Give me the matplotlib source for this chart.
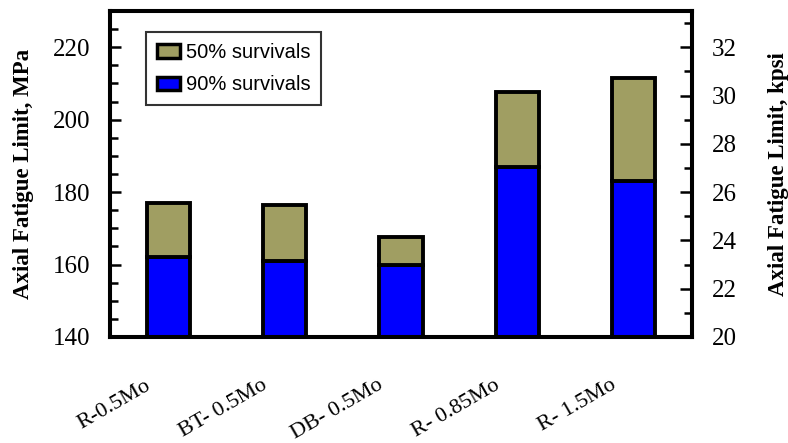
import matplotlib
matplotlib.use("Agg")
import matplotlib.pyplot as plt
from matplotlib.ticker import MultipleLocator
from matplotlib.transforms import ScaledTranslation
from matplotlib.patches import Rectangle
from matplotlib.legend_handler import HandlerPatch

# Alloy / processing conditions
categories = ["R-0.5Mo", "BT- 0.5Mo", "DB- 0.5Mo", "R- 0.85Mo", "R- 1.5Mo"]
# Axial fatigue limit (MPa)
survival_50 = [177.0, 176.5, 167.5, 207.5, 211.5]
survival_90 = [162.0, 161.0, 160.0, 187.0, 183.0]

serif = ["Liberation Serif", "DejaVu Serif"]
sans = ["Liberation Sans", "DejaVu Sans"]

fig = plt.figure(figsize=(7.88, 4.43), dpi=100)
ax = fig.add_axes([0.1396, 0.2393, 0.7386, 0.7359])

x = list(range(len(categories)))
ymin = 140
width = 0.37
edge_lw = 2.8

h90 = [v - ymin for v in survival_90]
h50 = [a - b for a, b in zip(survival_50, survival_90)]
ax.bar(x, h90, width, bottom=ymin, color="#0000FF", edgecolor="black",
       linewidth=edge_lw, label="90% survivals", zorder=2)
ax.bar(x, h50, width, bottom=survival_90, color="#A09E62", edgecolor="black",
       linewidth=edge_lw, label="50% survivals", zorder=2)

ax.set_xlim(-0.5, len(categories) - 0.5)
ax.set_ylim(140, 230)
ax.yaxis.set_major_locator(MultipleLocator(20))
ax.yaxis.set_minor_locator(MultipleLocator(5))
ax.tick_params(axis="y", which="major", direction="in", length=8, width=1.8,
               pad=14, labelsize=18)
ax.tick_params(axis="y", which="minor", direction="in", length=6, width=1.8)
for t in ax.get_yticklabels():
    t.set_family(serif)

ax.set_xticks(x)
ax.set_xticklabels(categories, rotation=30, ha="right", va="top",
                   rotation_mode="anchor", fontsize=16, family=serif)
ax.tick_params(axis="x", length=0, pad=0)
offset = ScaledTranslation(-0.24, -0.39, fig.dpi_scale_trans)
for t in ax.get_xticklabels():
    t.set_transform(t.get_transform() + offset)

for s in ax.spines.values():
    s.set_linewidth(2.9)
    s.set_zorder(3)

ax.set_ylabel("Axial Fatigue Limit, MPa", fontsize=16.5, fontweight="bold",
              family=serif, labelpad=14)

# Secondary scale in kpsi
ax2 = ax.twinx()
ax2.set_ylim(20, 33.5)
ax2.yaxis.set_major_locator(MultipleLocator(2))
ax2.yaxis.set_minor_locator(MultipleLocator(1))
ax2.tick_params(axis="y", which="major", direction="in", length=9, width=1.8,
                pad=14, labelsize=18)
ax2.tick_params(axis="y", which="minor", direction="in", length=6, width=1.8)
for t in ax2.get_yticklabels():
    t.set_family(serif)
for s in ax2.spines.values():
    s.set_linewidth(2.9)
ax2.set_ylabel("Axial Fatigue Limit, kpsi", fontsize=16.5, fontweight="bold",
               family=serif, labelpad=23)


def small_square(legend, orig_handle, xdescent, ydescent, width, height, fontsize):
    size = height
    return Rectangle((-xdescent + width - size - 1.0, -ydescent), size, size)


handles, labels = ax.get_legend_handles_labels()
leg = ax.legend(handles[::-1], labels[::-1], loc="upper left",
                bbox_to_anchor=(0.061, 0.935), prop={"family": sans, "size": 14.5},
                frameon=True, fancybox=False, edgecolor="black",
                handlelength=1.15, handleheight=0.65, handletextpad=0.3,
                borderpad=0.55, labelspacing=0.65, borderaxespad=0,
                handler_map={Rectangle: HandlerPatch(patch_func=small_square)})
leg.get_frame().set_linewidth(1.5)
for h in leg.legend_handles:
    h.set_linewidth(2.5)

fig.savefig("out.png", dpi=100)
